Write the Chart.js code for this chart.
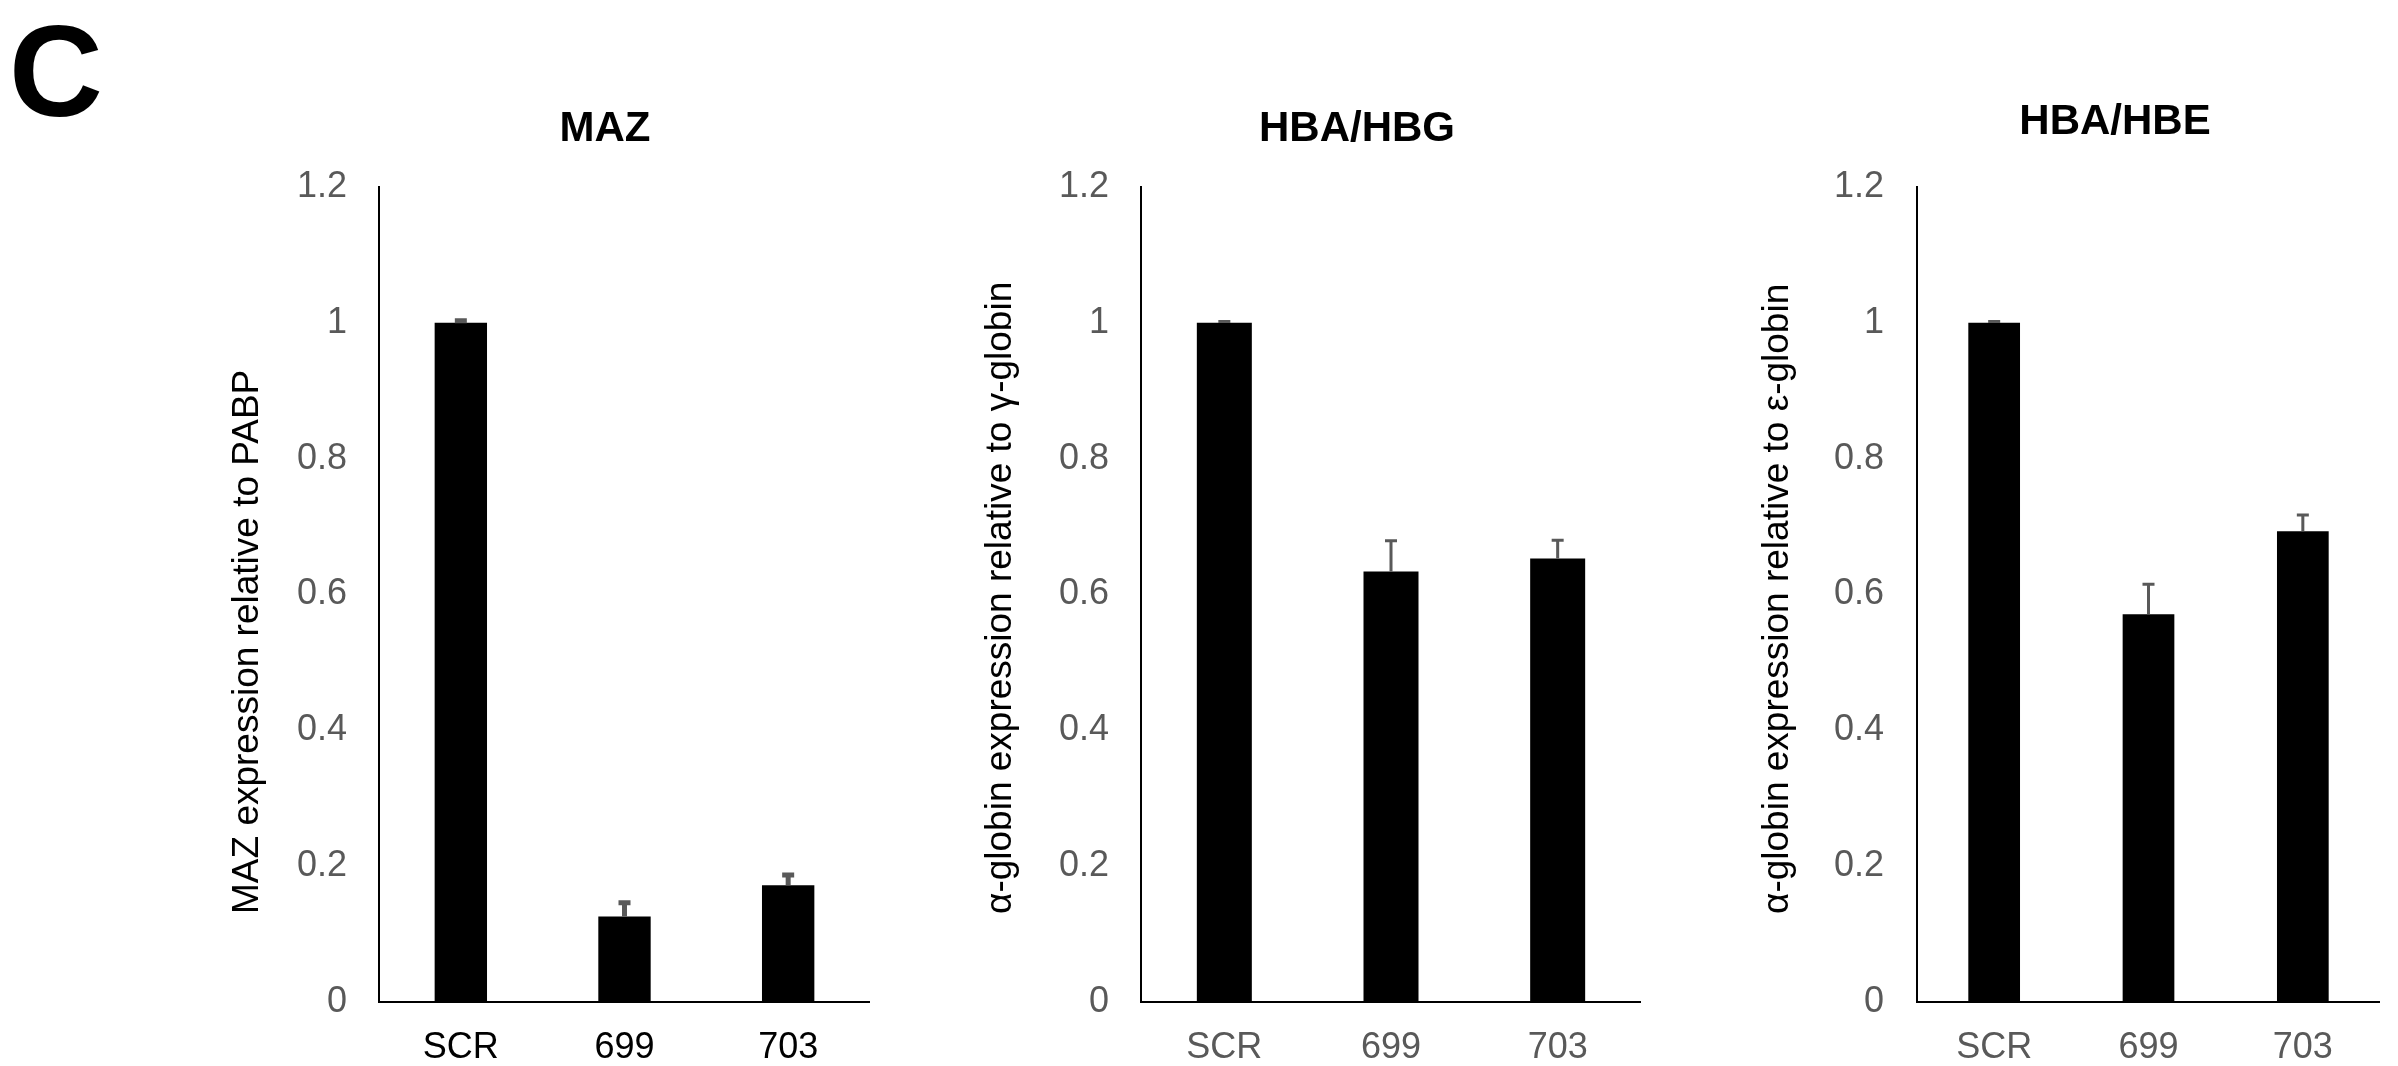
<!DOCTYPE html>
<html>
<head>
<meta charset="utf-8">
<script src="https://cdn.jsdelivr.net/npm/chart.js@4.4.1/dist/chart.umd.min.js"></script>
<style>
  html, body { margin: 0; padding: 0; background: #fff; }
  body { width: 2398px; height: 1066px; position: relative; overflow: hidden; font-family: "Liberation Sans", Arial, sans-serif; }
  .panel { position: absolute; top: 0; }
  #panelLetter { position: absolute; left: 9px; top: 6px; font-size: 130px; font-weight: bold; line-height: 1; color: #000; }
</style>
</head>
<body>
<div id="panelLetter">C</div>
<canvas id="chartMaz" class="panel" style="left:200px" width="670" height="1066"></canvas>
<canvas id="chartHbg" class="panel" style="left:950px" width="691" height="1066"></canvas>
<canvas id="chartHbe" class="panel" style="left:1720px" width="660" height="1066"></canvas>
<script>
// data
const categories = ['SCR', '699', '703'];
const mazValues = [1.0, 0.126, 0.172];
const mazErrors = [0.003, 0.020, 0.015];
const hbgValues = [1.0, 0.634, 0.653];
const hbgErrors = [0.002, 0.045, 0.027];
const hbeValues = [1.0, 0.571, 0.693];
const hbeErrors = [0.002, 0.044, 0.024];
const yTicks = [0, 0.2, 0.4, 0.6, 0.8, 1, 1.2];
const yTickLabels = ['0', '0.2', '0.4', '0.6', '0.8', '1', '1.2'];

const FONT = '"Liberation Sans", Arial, sans-serif';
const GRAY = '#595959';

// upward-only error bars, drawn through the chart's own scales
const errorBars = {
  id: 'errorBars',
  afterDatasetsDraw(chart, args, opts) {
    const { ctx } = chart;
    const yScale = chart.scales.y;
    const meta = chart.getDatasetMeta(0);
    const vals = chart.data.datasets[0].data;
    ctx.save();
    ctx.strokeStyle = GRAY;
    ctx.lineWidth = opts.width || 3;
    meta.data.forEach((bar, i) => {
      const yBar = yScale.getPixelForValue(vals[i]);
      const yTop = yScale.getPixelForValue(vals[i] + opts.errors[i]);
      ctx.beginPath();
      ctx.moveTo(bar.x, yBar);
      ctx.lineTo(bar.x, yTop);
      ctx.moveTo(bar.x - 6, yTop);
      ctx.lineTo(bar.x + 6, yTop);
      ctx.stroke();
    });
    ctx.restore();
  }
};

// the figure's titles sit a little left of the plot centre
const titleShift = {
  id: 'titleShift',
  afterLayout(chart, args, opts) {
    const t = chart.titleBlock;
    if (!t) return;
    const w = t.right - t.left;
    t.left = opts.x - w / 2;
    t.right = opts.x + w / 2;
  }
};

// rotated y axis title; in the original all three start at the same height
const sideTitle = {
  id: 'sideTitle',
  afterDraw(chart, args, opts) {
    const { ctx } = chart;
    ctx.save();
    ctx.translate(opts.x, opts.y);
    ctx.rotate(-Math.PI / 2);
    ctx.font = '37px ' + FONT;
    ctx.fillStyle = '#000';
    ctx.textAlign = 'left';
    ctx.textBaseline = 'middle';
    ctx.fillText(opts.text, 0, 0);
    ctx.restore();
  }
};

function makeChart(id, o) {
  return new Chart(document.getElementById(id), {
    type: 'bar',
    data: {
      labels: categories,
      datasets: [{
        data: o.values,
        backgroundColor: '#000',
        borderWidth: 0,
        barPercentage: o.barPct,
        categoryPercentage: 1
      }]
    },
    plugins: [errorBars, titleShift, sideTitle],
    options: {
      responsive: false,
      animation: false,
      events: [],
      layout: { padding: 0 },
      plugins: {
        legend: { display: false },
        tooltip: { enabled: false },
        errorBars: { errors: o.errors, width: o.errWidth },
        titleShift: { x: o.titleX },
        sideTitle: { text: o.yTitle, x: o.yTitleX, y: 914 },
        title: {
          display: true,
          text: o.title,
          color: '#000',
          font: { family: FONT, size: 42, weight: 'bold', lineHeight: 1.2 },
          padding: { top: o.titleTop, bottom: 187 - o.titleTop - 50.4 }
        }
      },
      scales: {
        x: {
          grid: { display: false, drawTicks: false },
          border: { color: '#000', width: 2 },
          ticks: { color: o.xColor, font: { family: FONT, size: 36 }, padding: 24 },
          afterFit: s => { s.height = 64; }
        },
        y: {
          min: 0,
          max: 1.2,
          grid: { display: false, drawTicks: false },
          border: { color: '#000', width: 2 },
          ticks: {
            color: GRAY,
            font: { family: FONT, size: 36 },
            padding: o.tickPad,
            callback: (v, i) => yTickLabels[i]
          },
          afterBuildTicks: s => { s.ticks = yTicks.map(v => ({ value: v })); },
          afterFit: s => { s.width = o.yWidth; }
        }
      }
    }
  });
}

makeChart('chartMaz', {
  title: 'MAZ', values: mazValues, errors: mazErrors, errWidth: 5,
  yTitle: 'MAZ expression relative to PABP', xColor: '#000',
  titleTop: 104, titleX: 405, yWidth: 179, tickPad: 32, yTitleX: 48, barPct: 0.32
});
makeChart('chartHbg', {
  title: 'HBA/HBG', values: hbgValues, errors: hbgErrors, errWidth: 3,
  yTitle: 'α-globin expression relative to γ-globin', xColor: GRAY,
  titleTop: 104, titleX: 407, yWidth: 191, tickPad: 32, yTitleX: 51, barPct: 0.33
});
makeChart('chartHbe', {
  title: 'HBA/HBE', values: hbeValues, errors: hbeErrors, errWidth: 3,
  yTitle: 'α-globin expression relative to ε-globin', xColor: GRAY,
  titleTop: 97, titleX: 395, yWidth: 197, tickPad: 33, yTitleX: 58, barPct: 0.335
});
</script>
</body>
</html>
